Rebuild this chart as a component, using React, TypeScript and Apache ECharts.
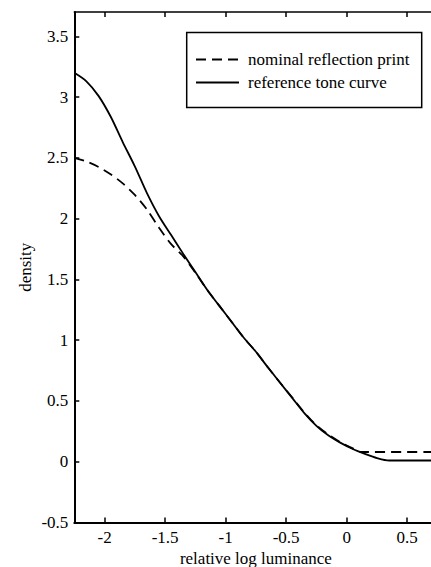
import React, { useEffect, useRef } from "react";
import * as echarts from "echarts";

const xTicks = [-2, -1.5, -1, -0.5, 0, 0.5];
const yTicks = [-0.5, 0, 0.5, 1, 1.5, 2, 2.5, 3, 3.5];

const seriesNames = ["nominal reflection print", "reference tone curve"];

const printX = [-2.25, -2.15, -2.05, -1.95, -1.85, -1.75, -1.65, -1.55, -1.45, -1.35, -1.25, -1.15, -1.05, -0.95, -0.85, -0.75, -0.65, -0.55, -0.45, -0.35, -0.25, -0.15, -0.05, 0.05, 0.12, 0.75];
const printY = [2.5, 2.47, 2.425, 2.365, 2.29, 2.195, 2.075, 1.925, 1.79, 1.69, 1.555, 1.41, 1.28, 1.15, 1.02, 0.905, 0.775, 0.65, 0.528, 0.405, 0.3, 0.222, 0.16, 0.11, 0.08, 0.08];

const toneX = [-2.25, -2.15, -2.05, -1.95, -1.85, -1.75, -1.65, -1.55, -1.45, -1.35, -1.25, -1.15, -1.05, -0.95, -0.85, -0.75, -0.65, -0.55, -0.45, -0.35, -0.25, -0.15, -0.05, 0.05, 0.15, 0.25, 0.35, 0.75];
const toneY = [3.2, 3.13, 3.01, 2.84, 2.63, 2.43, 2.21, 2.02, 1.865, 1.71, 1.56, 1.41, 1.28, 1.15, 1.02, 0.905, 0.775, 0.65, 0.525, 0.4, 0.295, 0.215, 0.155, 0.105, 0.065, 0.03, 0.01, 0.01];

const FONT = "'Liberation Serif', 'Times New Roman', serif";

export default function App() {
  const ref = useRef<HTMLDivElement>(null);
  useEffect(() => {
    const chart = echarts.init(ref.current!, null, { renderer: "svg" });
    const zip = (xs: number[], ys: number[]) => xs.map((x, i) => [x, ys[i]]);
    const axisFont = { fontFamily: FONT, fontSize: 17, color: "#000" };
    chart.setOption({
      animation: false,
      backgroundColor: "#fff",
      textStyle: { fontFamily: FONT },
      grid: { left: 74.3, right: 7.5, top: 12, bottom: 44.5, containLabel: false, outerBoundsMode: "none" },
      xAxis: [
        {
          type: "value",
          min: -2.25,
          max: 0.75,
          position: "bottom",
          name: "relative log luminance",
          nameLocation: "middle",
          nameGap: 27,
          nameMoveOverlap: false,
          nameTextStyle: axisFont,
          axisLine: { onZero: false, lineStyle: { color: "#000", width: 2 } },
          axisTick: { inside: true, length: 5, customValues: xTicks, lineStyle: { color: "#000", width: 1.5 } },
          axisLabel: { customValues: xTicks, margin: 6, ...axisFont },
          splitLine: { show: false },
        },
        {
          type: "value",
          min: -2.25,
          max: 0.75,
          position: "top",
          axisLine: { onZero: false, lineStyle: { color: "#000", width: 1.5 } },
          axisTick: { inside: true, length: 5, customValues: xTicks, lineStyle: { color: "#000", width: 1.5 } },
          axisLabel: { show: false },
          splitLine: { show: false },
        },
      ],
      yAxis: [
        {
          type: "value",
          min: -0.5,
          max: 3.7,
          position: "left",
          name: "density",
          nameLocation: "middle",
          nameGap: 40,
          nameMoveOverlap: false,
          nameRotate: 90,
          nameTextStyle: axisFont,
          axisLine: { onZero: false, lineStyle: { color: "#000", width: 2 } },
          axisTick: { inside: true, length: 5, customValues: yTicks, lineStyle: { color: "#000", width: 1.5 } },
          axisLabel: { customValues: yTicks, margin: 6, ...axisFont },
          splitLine: { show: false },
        },
        {
          type: "value",
          min: -0.5,
          max: 3.7,
          position: "right",
          axisLine: { onZero: false, lineStyle: { color: "#000", width: 1.5 } },
          axisTick: { inside: true, length: 5, customValues: yTicks, lineStyle: { color: "#000", width: 1.5 } },
          axisLabel: { show: false },
          splitLine: { show: false },
        },
      ],
      legend: {
        data: seriesNames,
        orient: "vertical",
        left: 195,
        top: 51,
        itemWidth: 43,
        itemHeight: 14,
        itemGap: 6,
        padding: 0,
        itemStyle: { opacity: 0, color: "rgba(0,0,0,0)", borderWidth: 0 },
        textStyle: { fontFamily: FONT, fontSize: 17, color: "#000", padding: [0, 0, 0, 4] },
      },
      graphic: [
        {
          type: "rect",
          shape: { x: 186.7, y: 32.5, width: 235, height: 75 },
          style: { fill: "none", stroke: "#000", lineWidth: 1.5 },
          silent: true,
        },
      ],
      series: [
        {
          name: seriesNames[0],
          type: "line",
          data: zip(printX, printY),
          symbol: "none",
          smooth: 0.3,
          lineStyle: { color: "#000", width: 1.8, type: [10, 6] },
          itemStyle: { color: "#000" },
          z: 2,
        },
        {
          name: seriesNames[1],
          type: "line",
          data: zip(toneX, toneY),
          symbol: "none",
          smooth: 0.3,
          lineStyle: { color: "#000", width: 1.8 },
          itemStyle: { color: "#000" },
          z: 3,
        },
      ],
    });
    return () => chart.dispose();
  }, []);
  return (
    <div style={{ position: "absolute", left: 0, top: 0, width: 431, height: 567, overflow: "hidden", background: "#fff" }}>
      <div ref={ref} style={{ width: 445, height: 567 }} />
    </div>
  );
}
